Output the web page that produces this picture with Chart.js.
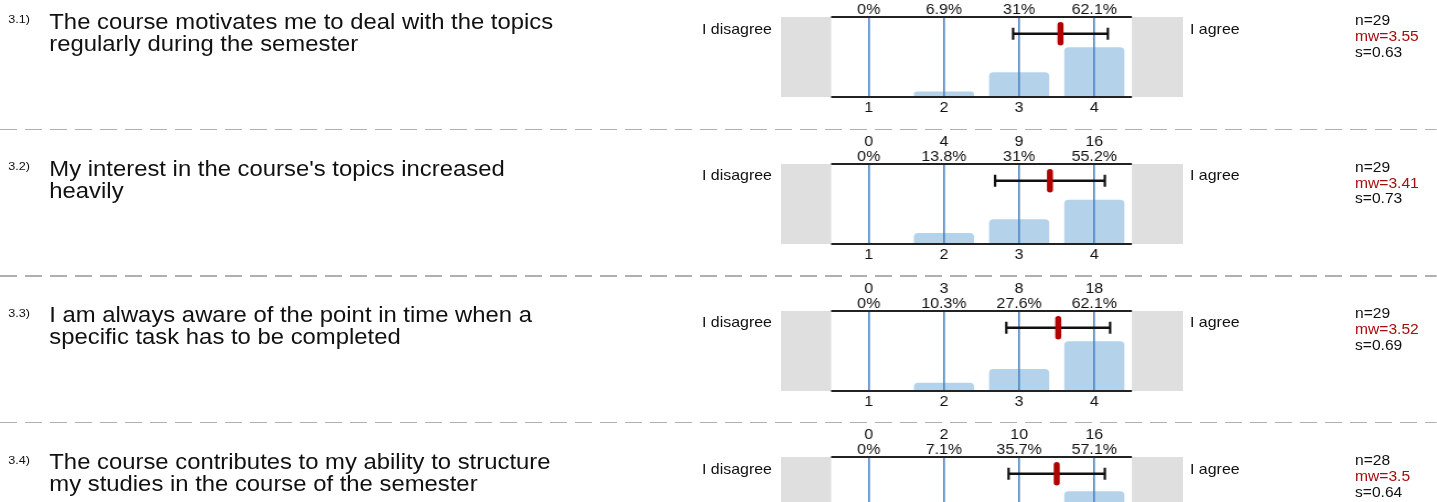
<!DOCTYPE html>
<html>
<head>
<meta charset="utf-8">
<script src="https://cdn.jsdelivr.net/npm/chart.js@4.4.1/dist/chart.umd.min.js"></script>
<style>
html,body{margin:0;padding:0;background:#fff;overflow:hidden;width:1437px;height:502px;}
#stage{position:absolute;left:0;top:0;width:1306.36px;height:502px;transform:scaleX(1.1);transform-origin:0 0;
  font-family:"Liberation Sans",Arial,sans-serif;color:#111;}
.abs{position:absolute;white-space:pre;}
.sep{position:absolute;left:0;width:1306.36px;height:1.4px;
  background:repeating-linear-gradient(to right,#b0b0b0 0,#b0b0b0 15.15px,transparent 15.15px,transparent 22.73px);}
.num{font-size:11.5px;line-height:12px;}
.q{font-size:21.7px;line-height:22px;}
.side{font-size:14.5px;line-height:17px;}
.stat{font-size:14.2px;line-height:15.8px;}
.mw{color:#a30f0f;}
.cbox{position:absolute;}
</style>
</head>
<body>
<div id="stage"></div>
<script>
// ---------- data ----------
const categories = [1, 2, 3, 4];
const tickLabels = ['1', '2', '3', '4'];
const questionNumbers = ['3.1)', '3.2)', '3.3)', '3.4)'];
const questionTexts = [
  'The course motivates me to deal with the topics\nregularly during the semester',
  "My interest in the course's topics increased\nheavily",
  'I am always aware of the point in time when a\nspecific task has to be completed',
  'The course contributes to my ability to structure\nmy studies in the course of the semester'
];
const countsQ = [
  [0, 2, 9, 18],
  [0, 4, 9, 16],
  [0, 3, 8, 18],
  [0, 2, 10, 16]
];
const percentsQ = [
  [0, 6.9, 31, 62.1],
  [0, 13.8, 31, 55.2],
  [0, 10.3, 27.6, 62.1],
  [0, 7.1, 35.7, 57.1]
];
const nValues = [29, 29, 29, 28];
const means = [3.55, 3.41, 3.52, 3.5];
const stdDevs = [0.63, 0.73, 0.69, 0.64];
const leftLabel = 'I disagree';
const rightLabel = 'I agree';

// ---------- layout helpers ----------
const SX = 1.1;                 // horizontal stretch of the whole stage
const lx = v => v / SX;         // convert page x to stage x
const FONT = '"Liberation Sans", Arial, sans-serif';
Chart.defaults.font.family = FONT;
Chart.defaults.color = '#111';

const stage = document.getElementById('stage');
function addDiv(cls, text, left, top, extra) {
  const d = document.createElement('div');
  d.className = 'abs ' + cls;
  d.textContent = text;
  d.style.left = left + 'px';
  d.style.top = top + 'px';
  if (extra) Object.assign(d.style, extra);
  stage.appendChild(d);
  return d;
}

const PAD_L = lx(50), PAD_R = lx(51);

const framePlugin = {
  id: 'frame',
  beforeDraw(chart) {
    const {ctx, chartArea: a} = chart;
    ctx.save();
    ctx.fillStyle = '#dfdfdf';
    ctx.fillRect(a.left - PAD_L, a.top, PAD_L, a.bottom - a.top);
    ctx.fillRect(a.right, a.top, PAD_R, a.bottom - a.top);
    ctx.restore();
  },
  afterDraw(chart, args, opts) {
    const {ctx, chartArea: a} = chart;
    const xs = chart.scales.x;
    ctx.save();
    // top and bottom frame lines
    ctx.strokeStyle = '#222';
    ctx.lineWidth = 1.8;
    ctx.beginPath();
    ctx.moveTo(a.left, a.top); ctx.lineTo(a.right, a.top);
    ctx.moveTo(a.left, a.bottom); ctx.lineTo(a.right, a.bottom);
    ctx.stroke();
    // error bar: mean +/- sd
    const y = a.top + 16.7;
    const x0 = xs.getPixelForValue(opts.mean - opts.sd);
    const x1 = xs.getPixelForValue(opts.mean + opts.sd);
    const xm = xs.getPixelForValue(opts.mean);
    ctx.strokeStyle = '#111';
    ctx.lineWidth = 2.4;
    ctx.beginPath();
    ctx.moveTo(x0, y); ctx.lineTo(x1, y);
    ctx.stroke();
    ctx.lineWidth = lx(2.4);
    ctx.beginPath();
    ctx.moveTo(x0, y - 6); ctx.lineTo(x0, y + 6);
    ctx.moveTo(x1, y - 6); ctx.lineTo(x1, y + 6);
    ctx.stroke();
    ctx.strokeStyle = '#b00000';
    ctx.lineWidth = lx(6);
    ctx.lineCap = 'round';
    ctx.beginPath();
    ctx.moveTo(xm, y - 9); ctx.lineTo(xm, y + 9);
    ctx.stroke();
    ctx.restore();
  }
};

const tickFont = {family: FONT, size: 14.5, lineHeight: '15px'};

questionTexts.forEach((qt, q) => {
  const T = 17.3 + 146.7 * q;   // top of plot area (page y)

  if (q > 0) {
    const s = document.createElement('div');
    s.className = 'sep';
    s.style.top = (T - 35.4) + 'px';
    stage.appendChild(s);
  }
  addDiv('num', questionNumbers[q], lx(8.3), T - 3.9);
  addDiv('q', qt, lx(49.3), T - 6.5);
  addDiv('side', leftLabel, lx(772) - 200, T + 3.4, {width: '200px', textAlign: 'right'});
  addDiv('side', rightLabel, lx(1190), T + 3.4);
  addDiv('stat', 'n=' + nValues[q], lx(1355), T - 4.3);
  addDiv('stat mw', 'mw=' + means[q], lx(1355), T - 4.3 + 15.8);
  addDiv('stat', 's=' + stdDevs[q], lx(1355), T - 4.3 + 31.6);

  const box = document.createElement('div');
  box.className = 'cbox';
  box.style.left = lx(781) + 'px';
  box.style.top = (T - 40) + 'px';
  box.style.width = lx(401) + 'px';
  box.style.height = '145px';
  const cv = document.createElement('canvas');
  box.appendChild(cv);
  stage.appendChild(box);

  const setTicks = scale => { scale.ticks = categories.map(v => ({value: v})); };

  new Chart(cv, {
    type: 'bar',
    data: {
      datasets: [{
        data: categories.map((c, i) => ({x: c, y: percentsQ[q][i]})),
        backgroundColor: '#b4d3ea',
        borderWidth: 0,
        borderRadius: 4,
        borderSkipped: 'start',
        barPercentage: 1,
        categoryPercentage: 0.8
      }]
    },
    options: {
      animation: false,
      responsive: true,
      maintainAspectRatio: false,
      events: [],
      layout: {padding: {left: PAD_L, right: PAD_R, top: 0, bottom: 0}},
      plugins: {
        legend: {display: false},
        tooltip: {enabled: false},
        frame: {mean: means[q], sd: stdDevs[q]}
      },
      scales: {
        x: {
          type: 'linear', position: 'bottom', min: 0.5, max: 4.5, offset: false,
          afterBuildTicks: setTicks,
          afterFit: s => { s.height = 25; },
          ticks: {
            autoSkip: false, maxRotation: 0, padding: 3, color: '#111', font: tickFont,
            callback: v => tickLabels[categories.indexOf(v)] ?? ''
          },
          grid: {display: true, offset: false, drawTicks: false, color: '#4f87c1', lineWidth: 1.6, z: 1},
          border: {display: false}
        },
        x2: {
          type: 'linear', position: 'top', min: 0.5, max: 4.5, offset: false,
          afterBuildTicks: setTicks,
          afterFit: s => { s.height = 40; },
          ticks: {
            autoSkip: false, maxRotation: 0, padding: 0, color: '#111', font: tickFont,
            callback: v => {
              const i = categories.indexOf(v);
              return i < 0 ? '' : [String(countsQ[q][i]), percentsQ[q][i] + '%'];
            }
          },
          grid: {display: false, drawTicks: false},
          border: {display: false}
        },
        y: {display: false, min: 0, max: 100}
      }
    },
    plugins: [framePlugin]
  });
});
</script>
</body>
</html>
